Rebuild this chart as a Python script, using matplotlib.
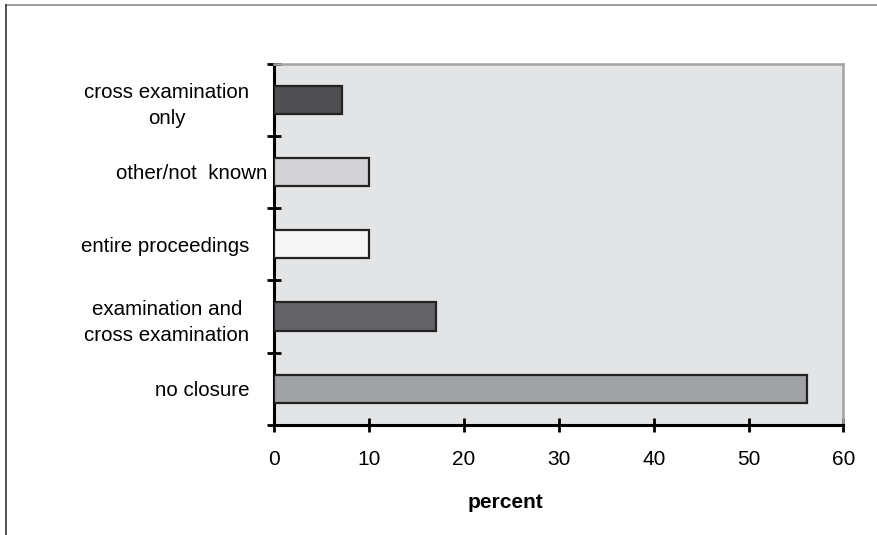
import matplotlib
matplotlib.use("Agg")
import matplotlib.pyplot as plt
import matplotlib.transforms as mtransforms
from matplotlib.lines import Line2D
import numpy as np

plt.rcParams["font.family"] = ["Liberation Sans", "DejaVu Sans"]

categories = [
    "cross examination\nonly",
    "other/not  known",
    "entire proceedings",
    "examination and\ncross examination",
    "no closure",
]
values = [7.1, 10.0, 10.0, 17.0, 56.2]
bar_colors = ["#4f4f51", "#d3d3d5", "#f6f6f6", "#636367", "#a0a1a4"]
x_ticks = [0, 10, 20, 30, 40, 50, 60]

fig = plt.figure(figsize=(8.78, 5.35), dpi=100)
ax = fig.add_axes([0.3126, 0.2056, 0.648, 0.6757])
ax.set_facecolor("#e3e4e6")

y = np.arange(len(categories))
ax.barh(y, values, height=0.39, color=bar_colors, edgecolor="#222222", linewidth=1.6, zorder=3)

narrow = ["Liberation Sans Narrow", "Liberation Sans", "DejaVu Sans"]

ax.set_xlim(0, 60)
ax.set_ylim(len(categories) - 0.5, -0.5)
ax.set_xticks(x_ticks)
ax.set_xticklabels([str(v) for v in x_ticks], fontsize=15, family=narrow)
ax.tick_params(axis="x", direction="inout", length=9.5, width=2, pad=13, colors="black")

# labels sit at the category centres, tick marks between categories
ax.set_yticks(y)
ax.set_yticklabels(categories, fontsize=14.8, multialignment="center", linespacing=1.5)
ax.tick_params(axis="y", which="major", length=0, pad=18)
ax.set_yticks(np.arange(len(categories) + 1) - 0.5, minor=True)
ax.tick_params(axis="y", which="minor", direction="inout", length=10, width=2)

# the "other/not  known" label runs closer to the axis
for lab in ax.get_yticklabels():
    if lab.get_text().startswith("other"):
        lab.set_transform(lab.get_transform() + mtransforms.ScaledTranslation(0.18, 0, fig.dpi_scale_trans))

for side in ("left", "bottom"):
    ax.spines[side].set_color("black")
    ax.spines[side].set_linewidth(2.2)
for side in ("top", "right"):
    ax.spines[side].set_color("#a3a3a3")
    ax.spines[side].set_linewidth(1.8)

fig.text(505 / 878, 1 - 502 / 535, "percent", fontsize=15, fontweight="bold", family=narrow,
         ha="center", va="center")

# outer frame (top and left edges)
fig.add_artist(Line2D([6 / 878, 1], [1 - 5 / 535, 1 - 5 / 535], transform=fig.transFigure, color="#8a8a8a", lw=1.2))
fig.add_artist(Line2D([6 / 878, 6 / 878], [0, 1 - 5 / 535], transform=fig.transFigure, color="#333333", lw=1.2))

fig.savefig("out.png", dpi=100)
